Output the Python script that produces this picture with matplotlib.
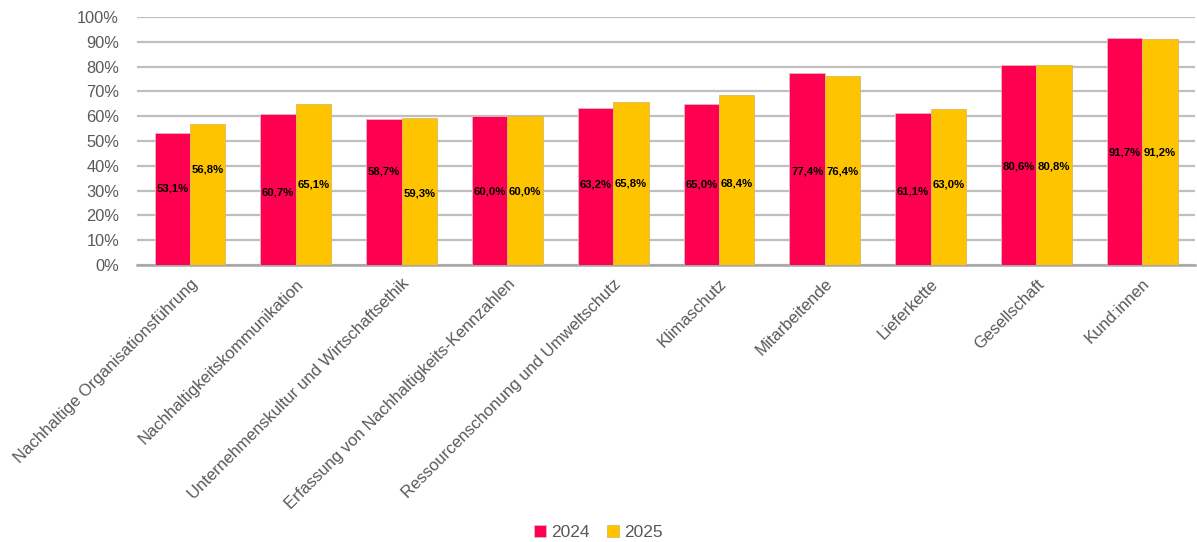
import matplotlib
matplotlib.use("Agg")
import matplotlib.pyplot as plt
import numpy as np
from matplotlib.ticker import PercentFormatter

plt.rcParams["font.family"] = ["Liberation Sans", "DejaVu Sans"]

categories = [
    "Nachhaltige Organisationsführung",
    "Nachhaltigkeitskommunikation",
    "Unternehmenskultur und Wirtschaftsethik",
    "Erfassung von Nachhaltigkeits-Kennzahlen",
    "Ressourcenschonung und Umweltschutz",
    "Klimaschutz",
    "Mitarbeitende",
    "Lieferkette",
    "Gesellschaft",
    "Kund:innen",
]
values_2024 = [53.1, 60.7, 58.7, 60.0, 63.2, 65.0, 77.4, 61.1, 80.6, 91.7]
values_2025 = [56.8, 65.1, 59.3, 60.0, 65.8, 68.4, 76.4, 63.0, 80.8, 91.2]

# vertical placement of the value labels inside the bars (in % units)
label_y_2024 = [31.0, 29.4, 37.9, 29.8, 32.3, 32.3, 37.9, 29.8, 39.9, 45.2]
label_y_2025 = [38.7, 32.3, 29.0, 29.8, 32.7, 32.7, 37.9, 32.3, 39.9, 45.2]

RED = "#FF0050"
YELLOW = "#FFC400"
GREY = "#595959"

fig = plt.figure(figsize=(11.97, 5.42), dpi=100)
ax = fig.add_axes([0.1145, 0.511, 0.884, 0.4576])

x = np.arange(len(categories))
w = 0.335
ax.bar(x - w / 2, values_2024, w, color=RED, edgecolor="#E8B8C4", linewidth=0.6,
       label="2024", zorder=3)
ax.bar(x + w / 2, values_2025, w, color=YELLOW, edgecolor="#D9B860", linewidth=0.6,
       label="2025", zorder=3)

for i in range(len(categories)):
    ax.text(x[i] - w / 2, label_y_2024[i], f"{values_2024[i]:.1f}%".replace(".", ","),
            ha="center", va="center", fontsize=8.2, fontweight="bold", color="black", zorder=4)
    ax.text(x[i] + w / 2, label_y_2025[i], f"{values_2025[i]:.1f}%".replace(".", ","),
            ha="center", va="center", fontsize=8.2, fontweight="bold", color="black", zorder=4)

ax.set_xlim(-0.5, len(categories) - 0.5)
ax.set_ylim(0, 100)
ax.set_yticks(np.arange(0, 101, 10))
ax.yaxis.set_major_formatter(PercentFormatter(decimals=0))
ax.yaxis.grid(True, color="#BFBFBF", linewidth=1.6, zorder=0)
ax.set_axisbelow(True)

for side in ["top", "right", "left"]:
    ax.spines[side].set_visible(False)
ax.spines["bottom"].set_color("#A6A6A6")
ax.spines["bottom"].set_linewidth(1.8)

ax.tick_params(axis="y", length=0, labelsize=11.8, labelcolor=GREY, pad=13)
ax.tick_params(axis="x", length=0, labelsize=12, labelcolor=GREY, pad=8)
ax.set_xticks(x)
ax.set_xticklabels(categories, rotation=45, ha="right", rotation_mode="anchor")

fig.legend(loc="lower center", bbox_to_anchor=(0.5, -0.025), ncol=2, frameon=False,
           fontsize=12.5, labelcolor=GREY, handlelength=0.7, handleheight=0.7,
           handletextpad=0.3, columnspacing=1.0)

fig.savefig("out.png", dpi=100)
